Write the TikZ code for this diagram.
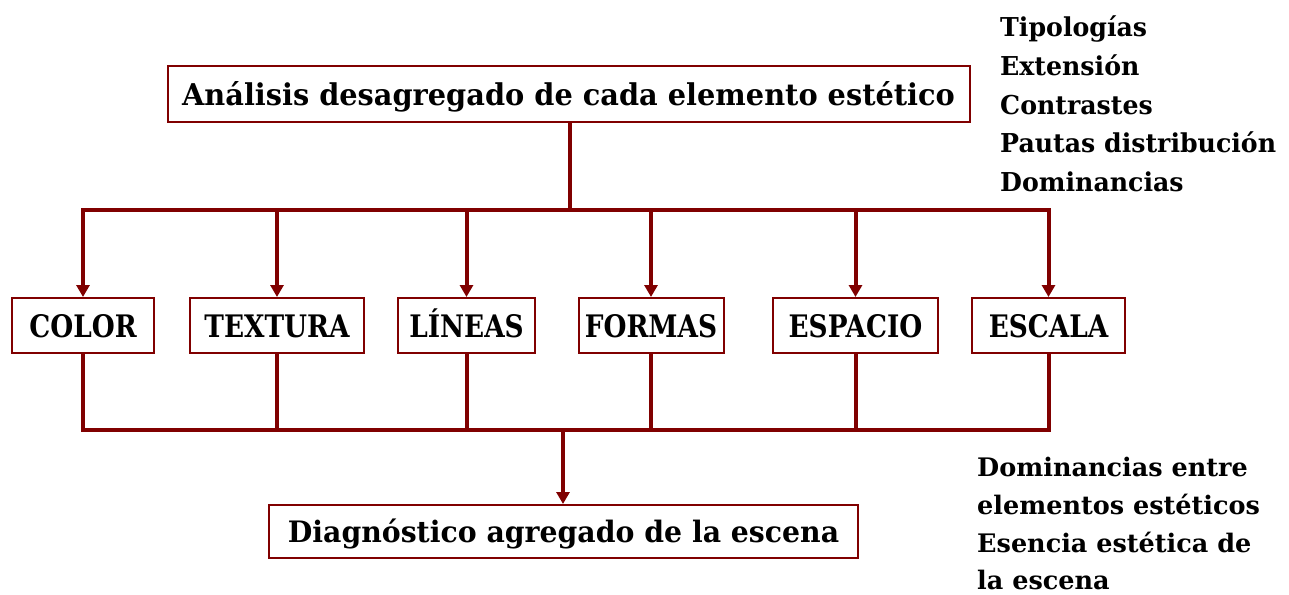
\documentclass[tikz,border=0pt]{standalone}
\usepackage{fontspec}
\setmainfont{DejaVu Serif}
\newfontfamily\bigfont[FakeStretch=0.96]{DejaVu Serif}
\newfontfamily\elfont[FakeStretch=0.85]{DejaVu Serif}
\newfontfamily\sidefont[FakeStretch=0.97]{DejaVu Serif}
\newfontfamily\sidefontb[FakeStretch=1.0]{DejaVu Serif}
\usetikzlibrary{arrows.meta}
\definecolor{dred}{RGB}{128,0,0}
\tikzset{
  boxnode/.style={draw=dred, line width=2pt, fill=white, inner xsep=0pt, inner ysep=0pt, minimum height=55pt, text depth=0pt},
  conn/.style={draw=dred, line width=4pt},
  arr/.style={conn, -{Triangle[width=13pt,length=12pt]}},
  toptxt/.style={font=\bigfont\bfseries\fontsize{30}{36}\selectfont, text height=22pt},
  diagtxt/.style={font=\bigfont\bfseries\fontsize{29.5}{36}\selectfont, text height=21pt},
  eltxt/.style={font=\elfont\bfseries\fontsize{31}{36}\selectfont, text height=23pt},
  sidetxt/.style={font=\sidefont\bfseries\fontsize{26}{30}\selectfont, inner sep=0pt, anchor=base west},
  sidetxtb/.style={font=\sidefontb\bfseries\fontsize{25.5}{30}\selectfont, inner sep=0pt, anchor=base west}
}
\begin{document}
\begin{tikzpicture}[x=1pt,y=-1pt]
\useasboundingbox (0,0) rectangle (1289,594);

\node[boxnode, toptxt, minimum width=802pt, minimum height=56pt] (top) at (568.5,94) {Análisis desagregado de cada elemento estético};

\node[boxnode, eltxt, minimum width=142pt] (color) at (83,325.5) {COLOR};
\node[boxnode, eltxt, minimum width=174pt] (textura) at (277,325.5) {TEXTURA};
\node[boxnode, eltxt, minimum width=137pt] (lineas) at (466.5,325.5) {LÍNEAS};
\node[boxnode, eltxt, minimum width=145pt] (formas) at (651,325.5) {FORMAS};
\node[boxnode, eltxt, minimum width=165pt] (espacio) at (855.5,325.5) {ESPACIO};
\node[boxnode, eltxt, minimum width=153pt] (escala) at (1048.5,325.5) {ESCALA};

\node[boxnode, diagtxt, minimum width=589pt, minimum height=53pt] (diag) at (563.5,531.5) {Diagnóstico agregado de la escena};

\coordinate (b1) at (570,210);
\coordinate (b2) at (563,430);

\draw[conn] (top.south -| b1) -- (b1);
\draw[arr] (b1) -| (color.north);
\draw[arr] (b1) -| (escala.north);
\foreach \n in {textura,lineas,formas,espacio}
  \draw[arr] (\n.north |- b1) -- (\n.north);

\draw[conn] (color.south) |- (escala.south |- b2) -- (escala.south);
\foreach \n in {textura,lineas,formas,espacio}
  \draw[conn] (\n.south) -- (\n.south |- b2);
\draw[arr] (b2) -- (b2 |- diag.north);

\node[sidetxt] (t1) at (1000,37) {Tipologías};
\node[sidetxt] (t2) at (1000,75.5) {Extensión};
\node[sidetxt] (t3) at (1000,114) {Contrastes};
\node[sidetxt] (t4) at (1000,152.5) {Pautas distribución};
\node[sidetxt] (t5) at (1000,191) {Dominancias};

\node[sidetxtb] (u1) at (977,476) {Dominancias entre};
\node[sidetxtb] (u2) at (977,514) {elementos estéticos};
\node[sidetxtb] (u3) at (977,552) {Esencia estética de};
\node[sidetxtb] (u4) at (977,589) {la escena};
\end{tikzpicture}
\end{document}
